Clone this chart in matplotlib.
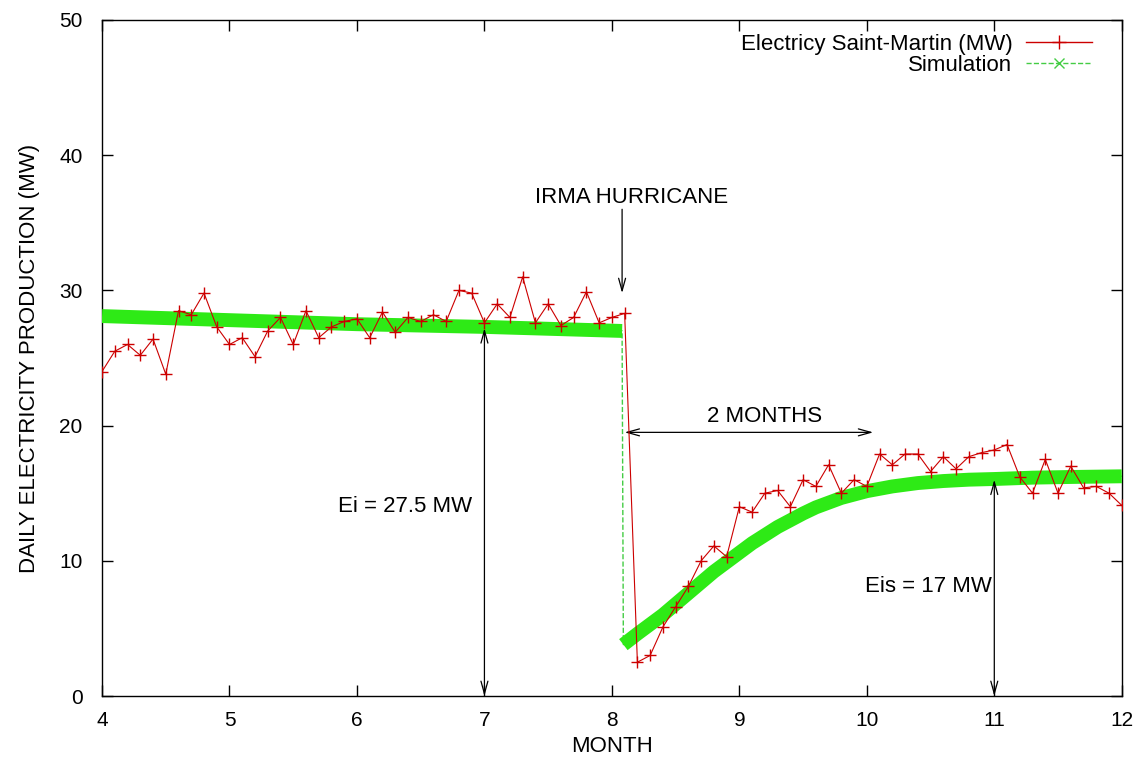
import matplotlib
matplotlib.use('Agg')
import matplotlib.pyplot as plt
from matplotlib.lines import Line2D
import numpy as np

plt.rcParams['font.family'] = ['Liberation Sans', 'DejaVu Sans']

# Measured daily production, one point every 0.1 month.
month = np.round(np.arange(4.0, 12.01, 0.1), 1)
electricity = [
    24.0, 25.5, 26.0, 25.2, 26.4, 23.8, 28.5, 28.2, 29.8, 27.3,
    26.0, 26.5, 25.1, 27.0, 28.0, 26.0, 28.5, 26.5, 27.3, 27.7,
    27.9, 26.5, 28.4, 26.9, 28.0, 27.7, 28.2, 27.7, 30.0, 29.8,
    27.6, 29.0, 28.0, 31.0, 27.6, 29.0, 27.4, 28.0, 29.9, 27.6,
    28.0, 28.3, 2.5, 3.0, 5.1, 6.6, 8.1, 10.0, 11.1, 10.3,
    14.0, 13.6, 15.0, 15.2, 14.0, 16.0, 15.5, 17.1, 15.0, 16.0,
    15.5, 17.9, 17.1, 17.9, 17.9, 16.6, 17.7, 16.8, 17.7, 18.0,
    18.2, 18.6, 16.2, 15.0, 17.5, 15.0, 17.0, 15.4, 15.5, 15.0,
    14.1,
]

# Simulation, before and after the hurricane.
sim_month_before = [4.0, 5.0, 6.0, 7.0, 8.08]
sim_before = [28.1, 27.8, 27.5, 27.3, 27.0]
sim_month_after = [8.09, 8.2, 8.3, 8.4, 8.5, 8.6, 8.7, 8.8, 8.9, 9.0,
                   9.1, 9.2, 9.3, 9.4, 9.5, 9.6, 9.7, 9.8, 9.9, 10.0,
                   10.2, 10.4, 10.6, 10.8, 11.0, 11.3, 11.6, 12.0]
sim_after = [3.8, 4.6, 5.3, 6.0, 6.8, 7.6, 8.4, 9.2, 9.9, 10.6,
             11.3, 11.9, 12.5, 13.0, 13.5, 13.95, 14.3, 14.65, 14.9, 15.15,
             15.5, 15.75, 15.9, 16.0, 16.05, 16.15, 16.2, 16.25]

red = '#cc0000'
green = '#2eea16'
thin_green = '#44cc44'

fig = plt.figure(figsize=(11.4, 7.6), dpi=100)
ax = fig.add_axes([0.0895, 0.0842, 0.8945, 0.8895])

# Thin dashed simulation line (visible at the drop), then thick band.
ax.plot(sim_month_before + sim_month_after, sim_before + sim_after,
        '--', color=thin_green, lw=1, zorder=2)
ax.plot(sim_month_before, sim_before, '-', color=green, lw=10,
        solid_capstyle='butt', solid_joinstyle='round', zorder=3)
ax.plot(sim_month_after, sim_after, '-', color=green, lw=10,
        solid_capstyle='butt', solid_joinstyle='round', zorder=3)

ax.plot(month, electricity, '-', color=red, lw=0.8, marker='+',
        markersize=9, markeredgewidth=1.0, zorder=4)

# Annotations
arrow = dict(arrowstyle='->,head_length=0.9,head_width=0.25', color='black',
             lw=0.9, shrinkA=0, shrinkB=0)
darrow = dict(arrowstyle='<->,head_length=0.9,head_width=0.25', color='black',
              lw=0.9, shrinkA=0, shrinkB=0)

ax.text(8.153, 36.9, 'IRMA HURRICANE', fontsize=16, ha='center', va='center')
ax.annotate('', xy=(8.08, 29.8), xytext=(8.08, 36.0), arrowprops=arrow)

ax.text(9.2, 20.65, '2 MONTHS', fontsize=16, ha='center', va='center')
ax.annotate('', xy=(8.1, 19.5), xytext=(10.05, 19.5), arrowprops=darrow)

ax.text(6.9, 14.05, 'Ei = 27.5 MW', fontsize=16, ha='right', va='center')
ax.annotate('', xy=(7.0, 0.0), xytext=(7.0, 27.2), arrowprops=darrow)

ax.text(10.98, 8.1, 'Eis = 17 MW', fontsize=16, ha='right', va='center')
ax.annotate('', xy=(11.0, 0.0), xytext=(11.0, 16.0), arrowprops=darrow)

ax.set_xlim(4, 12)
ax.set_ylim(0, 50)
ax.set_xticks(range(4, 13))
ax.set_yticks(range(0, 51, 10))
ax.tick_params(direction='in', length=8, width=1, top=True, right=True,
               labelsize=15)
ax.tick_params(axis='y', pad=14)
ax.tick_params(axis='x', pad=11)
for s in ax.spines.values():
    s.set_linewidth(1.0)

ax.set_xlabel('MONTH', fontsize=16, labelpad=4)
ax.set_ylabel('DAILY ELECTRICITY PRODUCTION (MW)', fontsize=16, labelpad=14)

handles = [
    Line2D([], [], color=red, lw=1, marker='+', markersize=10,
           markeredgewidth=1.0),
    Line2D([], [], color=thin_green, lw=1, ls='--', marker='x', markersize=7,
           markeredgewidth=1.0),
]
ax.legend(handles, ['Electricy Saint-Martin (MW)', 'Simulation'],
          loc='upper right', bbox_to_anchor=(0.980, 0.993), borderaxespad=0,
          frameon=False, markerfirst=False, numpoints=1,
          fontsize=16, handlelength=3.0, handletextpad=0.6, labelspacing=0.0)

fig.savefig('out.png', dpi=100)
